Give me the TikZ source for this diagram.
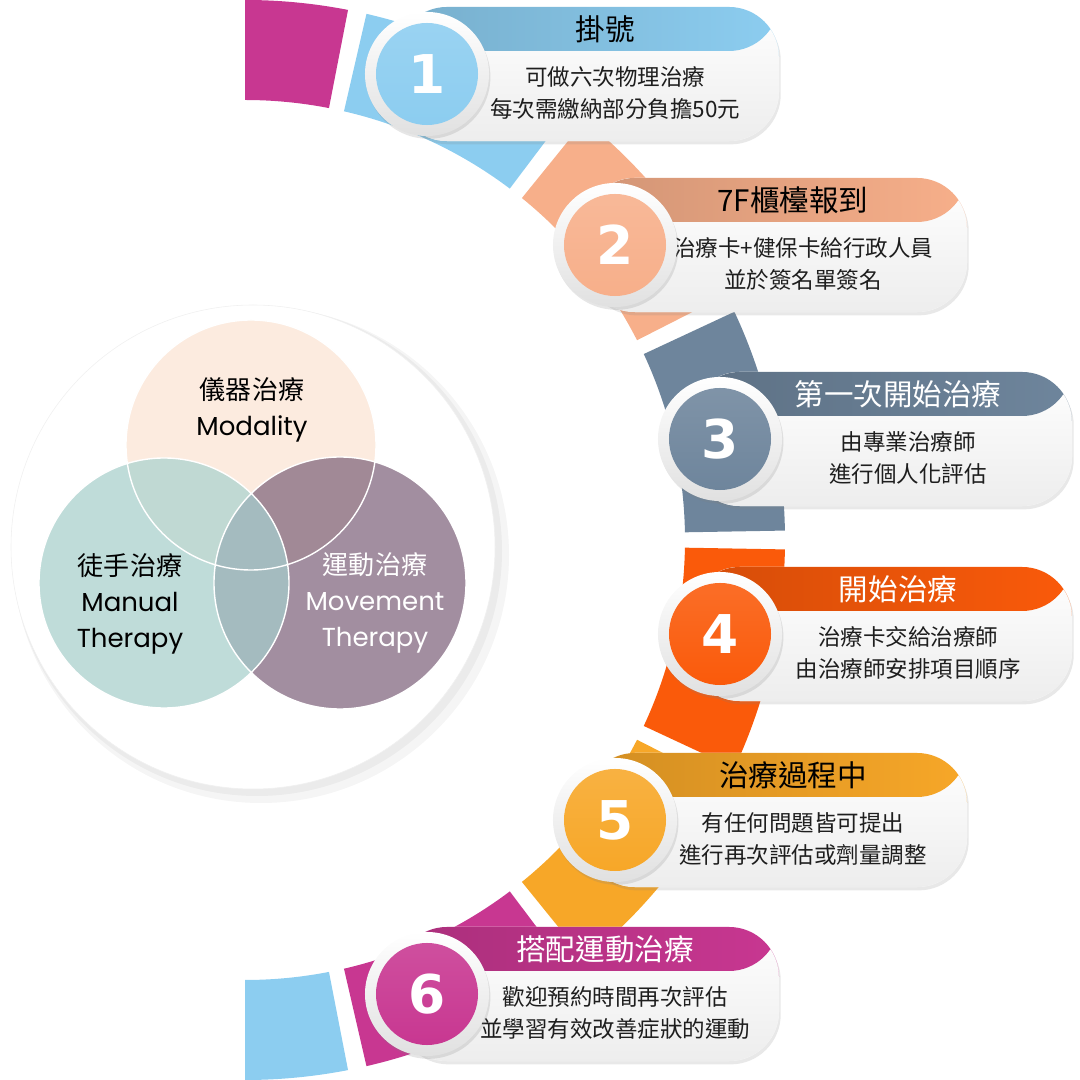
\documentclass[tikz,border=0pt]{standalone}
\usepackage{fontspec}
\setmainfont{Noto Sans CJK TC}
\newfontfamily\numfont{DejaVu Sans}
\newfontfamily\latinfont{Poppins}
\usepackage{tikz}
\usetikzlibrary{shadows}

\definecolor{ringmag}{HTML}{C83791}
\definecolor{ringblue}{HTML}{8CCDF0}
\definecolor{ringsalmon}{HTML}{F7AF8A}
\definecolor{ringslate}{HTML}{6E859C}
\definecolor{ringorange}{HTML}{FA5A0A}
\definecolor{ringamber}{HTML}{F7A728}
\definecolor{vpeach}{HTML}{FCEBDF}
\definecolor{vteal}{HTML}{BFDCD9}
\definecolor{vmauve}{HTML}{A28EA0}
\definecolor{vtl}{HTML}{C0D9D3}
\definecolor{vtr}{HTML}{A18996}
\definecolor{vlr}{HTML}{A4BBBF}
\definecolor{ink}{HTML}{1E1E1E}

\begin{document}
\begin{tikzpicture}[x=0.025cm, y=0.025cm,
    card/.style={rectangle, rounded corners=1.25cm, minimum width=9.55cm, minimum height=3.35cm,
      inner sep=0pt, fill=white,
      drop shadow={shadow xshift=1.2pt, shadow yshift=-2.4pt, opacity=.18},
      path picture={
        \shade[top color=white, bottom color=black!7] (path picture bounding box.south west) rectangle (path picture bounding box.north east);
        \shade[left color=#1!85!black, right color=#1] (path picture bounding box.north west) rectangle ([yshift=-1.1cm]path picture bounding box.north east);}},
    badge/.style={circle, minimum size=3.1cm, inner sep=0pt, top color=white, bottom color=black!12,
      drop shadow={shadow xshift=1pt, shadow yshift=-2pt, opacity=.2}},
    disc/.style={circle, minimum size=2.55cm, inner sep=0pt, top color=#1!88!white, bottom color=#1},
    num/.style={font=\numfont\bfseries\fontsize{38}{38}\selectfont, text=white},
    title/.style={font=\fontsize{21}{24}\selectfont, text=#1},
    body/.style={font=\fontsize{16}{22.8}\selectfont, align=center, text=ink},
    venn/.style={font=\fontsize{18.5}{25.6}\selectfont, align=center, text=#1}
  ]
  \useasboundingbox (0,0) rectangle (1080,1080);

  % ring behind the steps
  \begin{scope}[shift={(245,540)}]
    \fill[ringmag] (79:540) arc[start angle=79, end angle=90, radius=540] -- (90:440) arc[start angle=90, end angle=79, radius=440] -- cycle;
    \fill[ringblue] (53:540) arc[start angle=53, end angle=77, radius=540] -- (77:440) arc[start angle=77, end angle=53, radius=440] -- cycle;
    \fill[ringsalmon] (27:540) arc[start angle=27, end angle=51, radius=540] -- (51:440) arc[start angle=51, end angle=27, radius=440] -- cycle;
    \fill[ringslate] (1:540) arc[start angle=1, end angle=25, radius=540] -- (25:440) arc[start angle=25, end angle=1, radius=440] -- cycle;
    \fill[ringorange] (-25:540) arc[start angle=-25, end angle=-1, radius=540] -- (-1:440) arc[start angle=-1, end angle=-25, radius=440] -- cycle;
    \fill[ringamber] (-51:540) arc[start angle=-51, end angle=-27, radius=540] -- (-27:440) arc[start angle=-27, end angle=-51, radius=440] -- cycle;
    \fill[ringmag] (-77:540) arc[start angle=-77, end angle=-53, radius=540] -- (-53:440) arc[start angle=-53, end angle=-77, radius=440] -- cycle;
    \fill[ringblue] (-90:540) arc[start angle=-90, end angle=-79, radius=540] -- (-79:440) arc[start angle=-79, end angle=-90, radius=440] -- cycle;
  \end{scope}

  % venn disk
  \fill[black, opacity=.04] (261,525) circle[radius=248];
  \fill[black, opacity=.04] (257,529) circle[radius=245];
  \fill[white] (253,533) circle[radius=242];
  \draw[black!6] (253,533) circle[radius=242];
  \fill[vpeach] (251,635) circle[radius=125];
  \fill[vmauve] (340,497) circle[radius=126];
  \fill[vteal] (164,497) circle[radius=125];
  \begin{scope}
    \clip (251,635) circle[radius=125];
    \fill[vtl] (164,497) circle[radius=125];
    \fill[vtr] (340,497) circle[radius=126];
  \end{scope}
  \begin{scope}
    \clip (164,497) circle[radius=125];
    \fill[vlr] (340,497) circle[radius=126];
  \end{scope}
  \draw[white, line width=1pt] (251,635) circle[radius=125] (164,497) circle[radius=125] (340,497) circle[radius=126];
  \node[venn=black] (modality) at (252,670) {儀器治療\\{\latinfont Modality}};
  \node[venn=black] (manual) at (130,476) {徒手治療\\{\latinfont Manual}\\{\latinfont Therapy}};
  \node[venn=white] (movement) at (375,477) {運動治療\\{\latinfont Movement}\\{\latinfont Therapy}};

  % step 1
  \node[card=ringblue] (c1) at (588,1006) {};
  \node[title=black] (t1) at ([xshift=.425cm,yshift=1.125cm]c1.center) {掛號};
  \node[body] (d1) at ([xshift=.675cm,yshift=-.475cm]c1.center) {可做六次物理治療\\每次需繳納部分負擔50元};
  \node[badge] (b1) at (427,1006) {};
  \node[disc=ringblue] (o1) at (b1) {};
  \node[num] (k1) at (o1) {1};

  % step 2
  \node[card=ringsalmon] (c2) at (776,835) {};
  \node[title=black] (t2) at ([xshift=.425cm,yshift=1.125cm]c2.center) {7F櫃檯報到};
  \node[body] (d2) at ([xshift=.675cm,yshift=-.475cm]c2.center) {治療卡+健保卡給行政人員\\並於簽名單簽名};
  \node[badge] (b2) at (615,835) {};
  \node[disc=ringsalmon] (o2) at (b2) {};
  \node[num] (k2) at (o2) {2};

  % step 3
  \node[card=ringslate] (c3) at (881,641) {};
  \node[title=white] (t3) at ([xshift=.425cm,yshift=1.125cm]c3.center) {第一次開始治療};
  \node[body] (d3) at ([xshift=.675cm,yshift=-.475cm]c3.center) {由專業治療師\\進行個人化評估};
  \node[badge] (b3) at (720,641) {};
  \node[disc=ringslate] (o3) at (b3) {};
  \node[num] (k3) at (o3) {3};

  % step 4
  \node[card=ringorange] (c4) at (881,446) {};
  \node[title=white] (t4) at ([xshift=.425cm,yshift=1.125cm]c4.center) {開始治療};
  \node[body] (d4) at ([xshift=.675cm,yshift=-.475cm]c4.center) {治療卡交給治療師\\由治療師安排項目順序};
  \node[badge] (b4) at (720,446) {};
  \node[disc=ringorange] (o4) at (b4) {};
  \node[num] (k4) at (o4) {4};

  % step 5
  \node[card=ringamber] (c5) at (776,260) {};
  \node[title=black] (t5) at ([xshift=.425cm,yshift=1.125cm]c5.center) {治療過程中};
  \node[body] (d5) at ([xshift=.675cm,yshift=-.475cm]c5.center) {有任何問題皆可提出\\進行再次評估或劑量調整};
  \node[badge] (b5) at (615,260) {};
  \node[disc=ringamber] (o5) at (b5) {};
  \node[num] (k5) at (o5) {5};

  % step 6
  \node[card=ringmag] (c6) at (588,86) {};
  \node[title=white] (t6) at ([xshift=.425cm,yshift=1.125cm]c6.center) {搭配運動治療};
  \node[body] (d6) at ([xshift=.675cm,yshift=-.475cm]c6.center) {歡迎預約時間再次評估\\並學習有效改善症狀的運動};
  \node[badge] (b6) at (427,86) {};
  \node[disc=ringmag] (o6) at (b6) {};
  \node[num] (k6) at (o6) {6};
\end{tikzpicture}
\end{document}
